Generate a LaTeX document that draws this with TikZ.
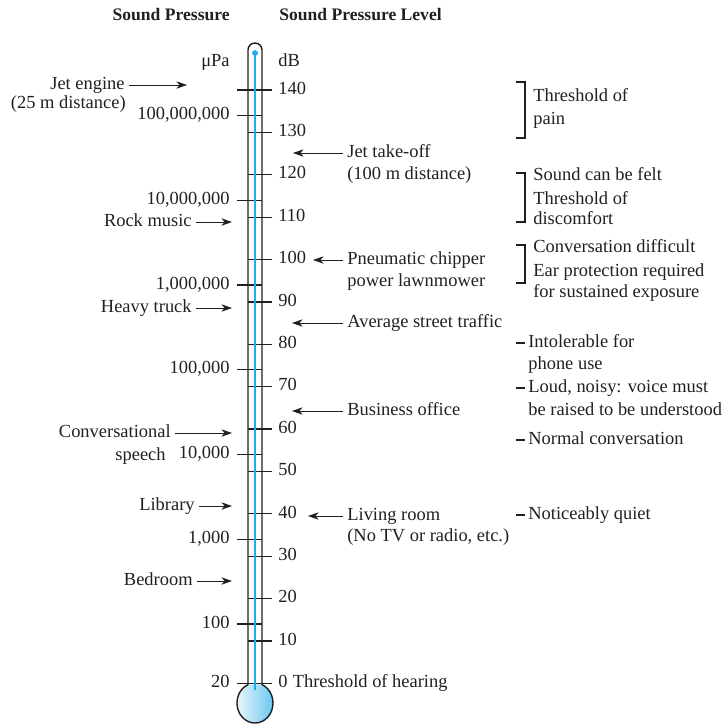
\documentclass[tikz,border=0pt]{standalone}
\usepackage{fontspec}
\setmainfont{Liberation Serif}
\usepackage{tikz}
\usetikzlibrary{positioning,calc,arrows.meta}
\definecolor{Mercury}{HTML}{1CADEB}
\definecolor{BulbLight}{HTML}{E6F6FD}
\definecolor{BulbDark}{HTML}{6CC7F0}
\definecolor{Ink}{HTML}{231F20}

% level in dB -> vertical position on the scale
\newcommand{\dBpos}[1]{683.3-4.238*(#1)}

\tikzset{
	lbl/.style={inner sep=0pt, text height=0.68em, text depth=0.2em, text=Ink},
	heading/.style={lbl, font=\fontsize{10}{12}\selectfont\bfseries},
	tick/.style={draw=Ink, line width=0.7pt},
	pointer/.style={draw=Ink, line width=0.55pt, shorten <=2pt,
		-{Stealth[length=6pt, width=4.2pt, inset=1.8pt]}},
	bracket/.style={draw=Ink, line width=1pt}
}

\begin{document}
\begin{tikzpicture}[x=0.02cm, y=-0.02cm, font=\fontsize{10.5}{12.6}\selectfont]
	\useasboundingbox (0,0) rectangle (724,725);

	% headings and units
	\node[heading, anchor=east] (hpa) at (230,16) {Sound Pressure};
	\node[heading, anchor=west] (hdb) at (279,16) {Sound Pressure Level};
	\node[lbl, anchor=east] (upa) at (230,62) {μPa};
	\node[lbl, anchor=west] (udb) at (278,62) {dB};

	% thermometer body
	\shade[left color=BulbLight, right color=BulbDark] (255,703) ellipse [x radius=18, y radius=20];
	\fill[white] (248,684.6) -- (248,50) arc[start angle=180, end angle=360, radius=7] -- (262,684.6) -- cycle;

	% dB scale
	\foreach \d in {0,10,...,140}{
		\draw[tick] (248,{\dBpos{\d}}) -- (272,{\dBpos{\d}});
		\node[lbl, anchor=west] (db\d) at (278,{\dBpos{\d}}) {\d};
	}
	\node[lbl, right=2.6pt of db0] (hearing) {Threshold of hearing};

	% pressure scale (20 log p/20)
	\foreach \k/\p in {2/100, 3/{1,000}, 4/{10,000}, 5/{100,000}, 6/{1,000,000}, 7/{10,000,000}, 8/{100,000,000}}{
		\draw[tick] (237,{\dBpos{20*\k-26.0206}}) -- (262,{\dBpos{20*\k-26.0206}});
		\node[lbl, anchor=east] (pa\k) at (230,{\dBpos{20*\k-26.0206}}) {\p};
	}
	\draw[tick] (237,{\dBpos{140}}) -- (262,{\dBpos{140}});
	\draw[tick] (237,{\dBpos{0}}) -- (262,{\dBpos{0}});
	\node[lbl, anchor=east] (pa1) at (230,{\dBpos{0}}) {20};

	% mercury
	\draw[Mercury, line width=1.6pt] (255,53) -- (255,690);
	\fill[Mercury] (255,53) circle [radius=2.9];
	\draw[Ink, line width=0.8pt] (248,50) arc[start angle=180, end angle=360, radius=7]
		-- (262,684.6) arc[start angle=-67.1, end angle=247.1, x radius=18, y radius=20] -- cycle;

	% sources, left side
	\node[lbl, anchor=east] (jet) at (125,85) {Jet engine};
	\node[lbl, anchor=east] (jetdist) at (126,104) {(25 m distance)};
	\node[lbl, anchor=east] (rock) at (192,222) {Rock music};
	\node[lbl, anchor=east] (truck) at (192,308) {Heavy truck};
	\node[lbl, anchor=east] (speech) at (171,433) {Conversational};
	\node[lbl, anchor=east] (speech2) at (166,456) {speech};
	\node[lbl, anchor=east] (library) at (195,506) {Library};
	\node[lbl, anchor=east] (bedroom) at (193,581) {Bedroom};
	\coordinate (jetTip) at (187,85);
	\coordinate (rockTip) at (232,222);
	\coordinate (truckTip) at (232,308);
	\coordinate (speechTip) at (232,433);
	\coordinate (libraryTip) at (232,506);
	\coordinate (bedroomTip) at (232,581);
	\foreach \s in {jet,rock,truck,speech,library,bedroom}
		\draw[pointer] (\s) -- (\s Tip);

	% sources, right side
	\node[lbl, anchor=west] (takeoff) at (347,153) {Jet take-off};
	\node[lbl, anchor=west] (takeoff2) at (347,175) {(100 m distance)};
	\node[lbl, anchor=west] (chipper) at (347,260) {Pneumatic chipper};
	\node[lbl, anchor=west] (chipper2) at (347,282) {power lawnmower};
	\node[lbl, anchor=west] (street) at (347,323) {Average street traffic};
	\node[lbl, anchor=west] (office) at (347,411) {Business office};
	\node[lbl, anchor=west] (living) at (347,516) {Living room};
	\node[lbl, anchor=west] (living2) at (347,537) {(No TV or radio, etc.)};
	\coordinate (takeoffTip) at (293,153);
	\coordinate (chipperTip) at (313,260);
	\coordinate (streetTip) at (292,323);
	\coordinate (officeTip) at (292,411);
	\coordinate (livingTip) at (308,516);
	\foreach \s in {takeoff,chipper,street,office,living}
		\draw[pointer] (\s) -- (\s Tip);

	% effects on the listener
	\draw[bracket] (516,82) -- (525,82) -- (525,138) -- (516,138);
	\node[lbl, anchor=west] (pain) at (533,97) {Threshold of};
	\node[lbl, anchor=west] (pain2) at (533,120) {pain};
	\draw[bracket] (516,173) -- (525,173) -- (525,222) -- (516,222);
	\node[lbl, anchor=west] (felt) at (533,176) {Sound can be felt};
	\node[lbl, anchor=west] (discomfort) at (533,200) {Threshold of};
	\node[lbl, anchor=west] (discomfort2) at (533,220) {discomfort};
	\draw[bracket] (516,245) -- (525,245) -- (525,283) -- (516,283);
	\node[lbl, anchor=west] (difficult) at (533,248) {Conversation difficult};
	\node[lbl, anchor=west] (protect) at (533,272) {Ear protection required};
	\node[lbl, anchor=west] (protect2) at (533,293) {for sustained exposure};

	\draw[bracket] (516,343) -- (525,343);
	\node[lbl, anchor=west] (phone) at (528,343) {Intolerable for};
	\node[lbl, anchor=west] (phone2) at (528,365) {phone use};
	\draw[bracket] (516,388) -- (525,388);
	\node[lbl, anchor=west] (loud) at (528,388) {Loud, noisy: voice must};
	\node[lbl, anchor=west] (loud2) at (528,411) {be raised to be understood};
	\draw[bracket] (516,440) -- (525,440);
	\node[lbl, anchor=west] (normal) at (528,440) {Normal conversation};
	\draw[bracket] (516,515) -- (525,515);
	\node[lbl, anchor=west] (quiet) at (528,515) {Noticeably quiet};
\end{tikzpicture}
\end{document}
